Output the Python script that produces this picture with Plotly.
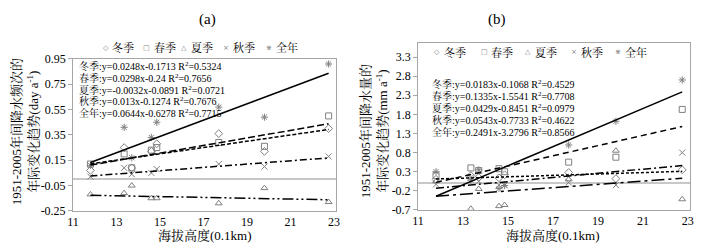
import numpy as np
import plotly.graph_objects as go

# ---------------- data ----------------
elev = [11.8, 13.35, 13.7, 14.6, 14.85, 17.7, 19.8, 22.75]
seasons = ["冬季", "春季", "夏季", "秋季", "全年"]

a_winter = [0.07, 0.25, 0.09, 0.22, 0.28, 0.36, 0.22, 0.40]
a_spring = [0.12, 0.20, 0.09, 0.23, 0.25, 0.29, 0.26, 0.50]
a_summer = [-0.12, -0.11, -0.05, -0.15, -0.15, -0.19, -0.07, -0.18]
a_autumn = [0.02, 0.09, 0.04, 0.05, 0.08, 0.12, 0.10, 0.18]
a_annual = [0.11, 0.41, 0.17, 0.33, 0.45, 0.57, 0.49, 0.91]
a_slope = [0.0248, 0.0298, -0.0032, 0.013, 0.0644]
a_inter = [-0.1713, -0.24, -0.0891, -0.1274, -0.6278]
a_r2 = ["0.5324", "0.7656", "0.0721", "0.7676", "0.7715"]
a_eq_coef = [("0.0248", "-0.1713"), ("0.0298", "-0.24"), ("-0.0032", "-0.0891"),
             ("0.013", "-0.1274"), ("0.0644", "-0.6278")]

b_winter = [0.10, 0.20, 0.15, 0.14, 0.22, 0.28, 0.12, 0.35]
b_spring = [0.20, 0.40, 0.33, 0.38, 0.30, 0.55, 0.68, 1.93]
b_summer = [0.05, -0.67, -0.15, -0.60, -0.57, 0.10, 0.85, -0.42]
b_autumn = [-0.03, 0.15, 0.05, -0.05, -0.05, 0.02, -0.05, 0.80]
b_annual = [0.30, 0.08, 0.35, -0.14, -0.06, 1.00, 1.62, 2.70]
b_slope = [0.0183, 0.1335, 0.0429, 0.0543, 0.2491]
b_inter = [-0.1068, -1.5541, -0.8451, -0.7733, -3.2796]
b_r2 = ["0.4529", "0.7708", "0.0979", "0.4622", "0.8566"]
b_eq_coef = [("0.0183", "-0.1068"), ("0.1335", "-1.5541"), ("0.0429", "-0.8451"),
             ("0.0543", "-0.7733"), ("0.2491", "-3.2796")]

x_ticks = [11, 13, 15, 17, 19, 21, 23]
a_yticks = [-0.25, -0.05, 0.15, 0.35, 0.55, 0.75, 0.95]
b_yticks = [-0.7, -0.2, 0.3, 0.8, 1.3, 1.8, 2.3, 2.8, 3.3]

# ---------------- style ----------------
W, H = 701, 250
FONT = "Liberation Serif, 'Noto Serif CJK SC', 'Noto Sans CJK SC', serif"
MK = "#808080"
symbols = ["diamond-open", "square-open", "triangle-up-open", "x-thin-open", "asterisk-open"]
glyphs = ["◇", "□", "△", "×", "⋇"]
a_dash = ["4px,2px", "7px,3px", "11px,3px,2px,3px,2px,3px", "7px,3px,2px,3px", "solid"]
b_dash = ["3px,2px", "6px,4px", "13px,4px,3px,4px", "8px,3px,2px,3px", "solid"]

def px2fx(px):
    return px / W

def py2fy(py):
    return 1 - py / H

fig = go.Figure()

panels = [
    dict(x="x", y="y", data=[a_winter, a_spring, a_summer, a_autumn, a_annual],
         slope=a_slope, inter=a_inter, dash=a_dash),
    dict(x="x2", y="y2", data=[b_winter, b_spring, b_summer, b_autumn, b_annual],
         slope=b_slope, inter=b_inter, dash=b_dash),
]

xs = np.array([min(elev), max(elev)])
for p in panels:
    for i, s in enumerate(seasons):
        fig.add_trace(go.Scatter(
            x=elev, y=p["data"][i], mode="markers", name=s, showlegend=False,
            xaxis=p["x"], yaxis=p["y"],
            marker=dict(symbol=symbols[i], size=6, color=MK, line=dict(color=MK, width=1)),
        ))
    for i, s in enumerate(seasons):
        fig.add_trace(go.Scatter(
            x=xs, y=p["slope"][i] * xs + p["inter"][i], mode="lines", showlegend=False,
            xaxis=p["x"], yaxis=p["y"], hoverinfo="skip",
            line=dict(color="black", width=1.5, dash=p["dash"][i]),
        ))

axis_common = dict(showgrid=False, showline=True, mirror=True, linecolor="#a6a6a6",
                   linewidth=1, tickfont=dict(family=FONT, size=12, color="black"))

fig.update_layout(
    width=W, height=H, margin=dict(l=0, r=0, t=0, b=0),
    paper_bgcolor="white", plot_bgcolor="white", showlegend=False,
    xaxis=dict(domain=[px2fx(68), px2fx(335)], range=[11, 23.1], tickvals=x_ticks,
               ticks="", anchor="y", zeroline=False, **axis_common),
    yaxis=dict(domain=[py2fy(216), py2fy(55)], range=[-0.25, 0.95], tickvals=a_yticks,
               ticktext=[f"{v:.2f}" for v in a_yticks], ticks="outside", ticklen=4,
               tickcolor="#a6a6a6", anchor="x", zeroline=True, zerolinecolor="#c8c8c8",
               zerolinewidth=2, **axis_common),
    xaxis2=dict(domain=[px2fx(418), px2fx(694)], range=[11, 23.1], tickvals=x_ticks,
                ticks="", anchor="y2", zeroline=False, **axis_common),
    yaxis2=dict(domain=[py2fy(215), py2fy(38)], range=[-0.7, 3.67], tickvals=b_yticks,
                ticktext=[f"{v:.1f}" for v in b_yticks], ticks="outside", ticklen=4,
                tickcolor="#a6a6a6", anchor="x2", zeroline=True, zerolinecolor="#c8c8c8",
                zerolinewidth=2, **axis_common),
)

ann = []
def add_text(px, py, text, size=10, xanchor="left", angle=0):
    ann.append(dict(x=px2fx(px), y=py2fy(py), xref="paper", yref="paper", text=text,
                    showarrow=False, xanchor=xanchor, yanchor="middle", textangle=angle,
                    font=dict(family=FONT, size=size, color="black")))

# titles
add_text(204, 13, "(a)", size=15, xanchor="center")
add_text(498, 13, "(b)", size=15, xanchor="center")

# x-axis titles
add_text(202, 242, "海拔高度(0.1km)", size=13, xanchor="center")
add_text(555, 242, "海拔高度(0.1km)", size=13, xanchor="center")

# y-axis titles
add_text(19, 132, "1951-2005年间降水频次的<br>年际变化趋势(day a<sup>-1</sup>)", size=13,
         xanchor="center", angle=-90)
add_text(373, 132, "1951-2005年间降水量的<br>年际变化趋势(mm a<sup>-1</sup>)", size=13,
         xanchor="center", angle=-90)

# equations
for i, s in enumerate(seasons):
    k, b = a_eq_coef[i]
    add_text(72, 63 + i * 12.2, f"{s}:y={k}x{b} R<sup>2</sup>={a_r2[i]}", size=10)
for i, s in enumerate(seasons):
    k, b = b_eq_coef[i]
    add_text(430, 82 + i * 12.5, f"{s}:y={k}x{b} R<sup>2</sup>={b_r2[i]}", size=10)

# legends (marker glyph + label)
a_leg_x = [101, 143, 181, 223, 267]
b_leg_x = [437, 485, 530, 576, 621]
for lx_list, ly in [(a_leg_x, 43), (b_leg_x, 48)]:
    for i, s in enumerate(seasons):
        ann.append(dict(x=px2fx(lx_list[i]), y=py2fy(ly), xref="paper", yref="paper",
                        text=glyphs[i], showarrow=False, xanchor="center", yanchor="middle",
                        font=dict(family="DejaVu Sans", size=7, color=MK)))
        add_text(lx_list[i] + 5, ly, s, size=11)

fig.update_layout(annotations=ann)
fig.write_html("out.html", config={"displayModeBar": False},
               post_script="document.body.style.margin='0px';document.body.style.overflow='hidden';")
